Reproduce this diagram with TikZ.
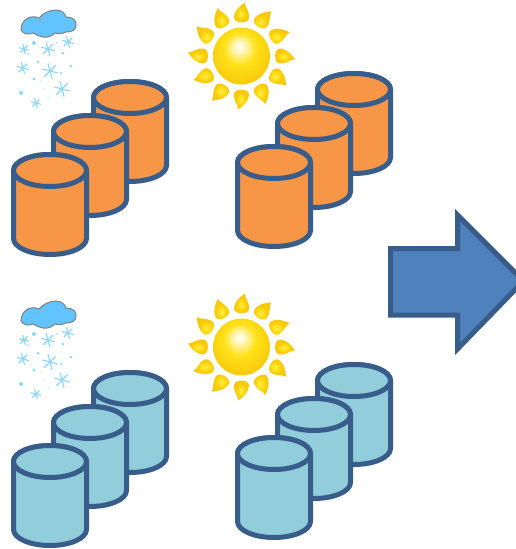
\documentclass[tikz,border=0pt]{standalone}
\usepackage{tikz}
\definecolor{edgeblue}{HTML}{385D8A}
\definecolor{arrowblue}{HTML}{4F81BD}
\definecolor{barrelorange}{HTML}{F79646}
\definecolor{barrelteal}{HTML}{92CDDC}
\definecolor{cloudblue}{HTML}{62C4FF}
\definecolor{flakeblue}{HTML}{8AD6FF}
\definecolor{sunyellow}{HTML}{FFE21A}
\definecolor{sungold}{HTML}{F5BC00}
\pgfdeclareradialshading{sunball}{\pgfpoint{-2pt}{9pt}}{%
  color(0pt)=(white); color(5pt)=(white!70!sunyellow); color(14pt)=(sunyellow);
  color(24pt)=(sunyellow!55!sungold); color(38pt)=(sungold); color(50pt)=(sungold)}
\pgfdeclareradialshading{sunray}{\pgfpoint{-2pt}{-2pt}}{%
  color(0pt)=(white!30!sunyellow); color(7pt)=(sunyellow); color(16pt)=(sunyellow!40!sungold); color(50pt)=(sungold)}
\tikzset{
  barrelside/.style={draw=edgeblue, line width=5pt, line join=round},
  flake/.style={draw=flakeblue, line width=1.1pt},
  speck/.style={fill=flakeblue},
}
% barrel, #1 and #2 give the middle of its lid, #3 its colour
\newcommand{\barrel}[3]{
  \draw[barrelside, fill=#3] (#1-36.5,#2) -- (#1-36.5,#2+68) arc[start angle=180, end angle=360, x radius=36.5, y radius=-16]
    -- (#1+36.5,#2) arc[start angle=0, end angle=180, x radius=36.5, y radius=-16] -- cycle;
  \draw[barrelside, fill=#3] (#1,#2) ellipse[x radius=36.5, y radius=16];
}
% snow cloud, #1 is the vertical shift
\newcommand{\snowcloud}[1]{
  \begin{scope}[yshift=-#1pt]
    \draw[fill=cloudblue, draw=gray, line width=1pt] (21,30) .. controls (21,20) and (30,14) .. (39,18)
      .. controls (43,13) and (50,10) .. (56,10) .. controls (61,10) and (65,13) .. (66,17)
      .. controls (72,17) and (77,20) .. (76,25) .. controls (76,30) and (72,32) .. (66,32)
      .. controls (62,34) and (58,34) .. (55,33) .. controls (52,36) and (47,38) .. (43,37)
      .. controls (39,36) and (36,35) .. (33,33) .. controls (29,35) and (23,34) .. (21,30) -- cycle;
    \draw[gray!70, line width=0.5pt] (38,24) .. controls (38,20) and (42,18) .. (47,18);
    \foreach \fx/\fy/\fr in {24/49/5, 48/49/7, 68/42/6, 23/68/6, 50/71/8, 62/89/8, 36/103/5, 21/93/2}{
      \foreach \fa in {15,75,135}
        \draw[flake] ({\fx+\fr*cos(\fa)},{\fy+\fr*sin(\fa)}) -- ({\fx-\fr*cos(\fa)},{\fy-\fr*sin(\fa)});
    }
    \foreach \sx/\sy/\sw in {34/43/2, 63/53/1.5, 38/62/1.5, 71/66/1.5, 34/79/1.6, 61/73/1.2, 44/89/0.6, 49/97/0.6, 28/54/0.8, 57/43/0.8, 41/81/0.6}
      \fill[speck] (\sx,\sy) circle (\sw);
  \end{scope}
}
% sun, #1 is the vertical shift
\newcommand{\sunshine}[1]{
  \begin{scope}[shift={(241.5,56+#1)}]
    \foreach \ra in {0,30,...,330}
      \shade[rotate=\ra, shading=sunray] (-7.5,-39) .. controls (-7,-45) and (-2,-50) .. (3.5,-53.5)
        .. controls (3,-49) and (8,-46) .. (7.5,-38) .. controls (7,-32) and (-8,-32) .. (-7.5,-39) -- cycle;
    \shade[shading=sunball] (0,0) circle (28.5);
  \end{scope}
}
\begin{document}
\begin{tikzpicture}[x=1pt, y=-1pt]
  \useasboundingbox (0,0) rectangle (515,549);
  % weather
  \snowcloud{0}
  \snowcloud{291}
  \sunshine{0}
  \sunshine{291}
  % top row
  \barrel{130}{97.5}{barrelorange}
  \barrel{90}{131.5}{barrelorange}
  \barrel{50}{170.5}{barrelorange}
  \barrel{354}{89.5}{barrelorange}
  \barrel{314}{123.5}{barrelorange}
  \barrel{274}{162.5}{barrelorange}
  % bottom row
  \barrel{130}{388.5}{barrelteal}
  \barrel{90}{422.5}{barrelteal}
  \barrel{50}{461.5}{barrelteal}
  \barrel{354}{380.5}{barrelteal}
  \barrel{314}{414.5}{barrelteal}
  \barrel{274}{453.5}{barrelteal}
  % block arrow
  \draw[fill=arrowblue, draw=edgeblue, line width=5pt, miter limit=10] (390.5,248.5) -- (457.5,248.5) -- (457.5,215)
    -- (523.5,281) -- (457.5,349) -- (457.5,315) -- (390.5,315) -- cycle;
\end{tikzpicture}
\end{document}
